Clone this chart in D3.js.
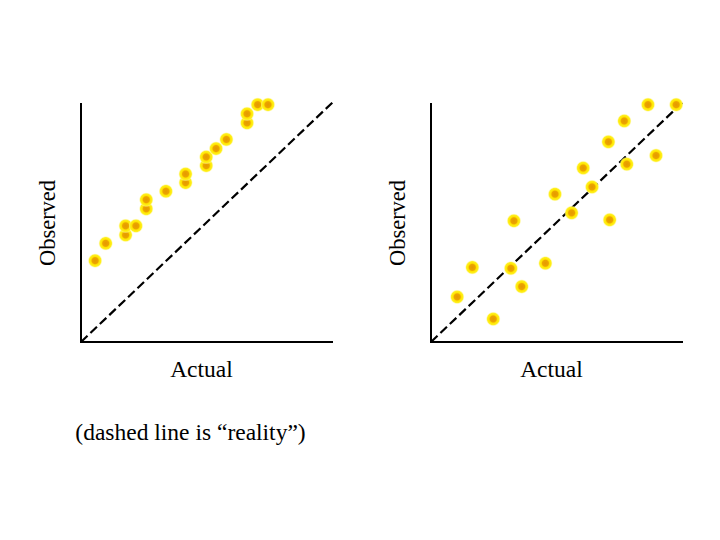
<!DOCTYPE html>
<html>
<head>
<meta charset="utf-8">
<script src="https://cdn.jsdelivr.net/npm/d3@7"></script>
<style>
  body { margin: 0; background: #fff; }
</style>
</head>
<body>
<script>
// left panel: observed sits above reality (biased)
const biasedActual   = [5.6, 9.8, 17.7, 17.7, 21.8, 25.9, 25.9, 33.7, 41.5, 41.5, 49.7, 49.7, 53.6, 57.7, 65.9, 65.9, 70.1, 74.2];
const biasedObserved = [33.9, 41.1, 44.6, 48.4, 48.4, 55.5, 59.3, 62.8, 66.4, 70.0, 73.5, 77.1, 80.6, 84.4, 91.3, 95.1, 98.9, 98.9];

// right panel: observed scattered round reality
const noisyActual   = [10.4, 16.4, 24.7, 31.7, 36.0, 32.9, 45.4, 49.2, 55.8, 60.4, 63.9, 70.9, 70.4, 76.7, 77.7, 89.3, 86.1, 97.3];
const noisyObserved = [18.8, 31.1, 9.6, 30.7, 23.1, 50.5, 32.8, 61.6, 53.8, 72.5, 64.6, 50.9, 83.4, 92.1, 74.1, 77.7, 98.9, 98.9];

const xLabel = 'Actual';
const yLabel = 'Observed';
const note = '(dashed line is \u201Creality\u201D)';

const width = 720, height = 540;
const serif = '"Liberation Serif", "Times New Roman", serif';
const svg = d3.select('body').append('svg')
  .attr('width', width)
  .attr('height', height);

// point look: orange core with a soft yellow halo
const defs = svg.append('defs');
const grad = defs.append('radialGradient').attr('id', 'dot');
grad.append('stop').attr('offset', '0%').attr('stop-color', '#e49a00');
grad.append('stop').attr('offset', '40%').attr('stop-color', '#eca400');
grad.append('stop').attr('offset', '55%').attr('stop-color', '#ffe400');
grad.append('stop').attr('offset', '78%').attr('stop-color', '#fff020');
grad.append('stop').attr('offset', '100%').attr('stop-color', '#fffbe0').attr('stop-opacity', 0);

function panel(left, xs, ys) {
  const x = d3.scaleLinear().domain([0, 100]).range([left, left + 252]);
  const y = d3.scaleLinear().domain([0, 100]).range([342, 102]);
  const g = svg.append('g');

  // reality line
  g.append('line')
    .attr('x1', x(0)).attr('y1', y(0))
    .attr('x2', x(100)).attr('y2', y(100))
    .attr('stroke', '#000')
    .attr('stroke-width', 2.2)
    .attr('stroke-dasharray', '9,4');

  // axes (no ticks)
  g.append('line')
    .attr('x1', x(0)).attr('y1', y(0) + 1)
    .attr('x2', x(0)).attr('y2', y(100) + 1)
    .attr('stroke', '#000').attr('stroke-width', 2);
  g.append('line')
    .attr('x1', x(0) - 1).attr('y1', y(0))
    .attr('x2', x(100)).attr('y2', y(0))
    .attr('stroke', '#000').attr('stroke-width', 2);

  const pts = xs.map((v, i) => ({a: v, o: ys[i]}));
  g.selectAll('circle')
    .data(pts)
    .join('circle')
    .attr('cx', d => x(d.a))
    .attr('cy', d => y(d.o))
    .attr('r', 7.5)
    .attr('fill', 'url(#dot)');

  g.append('text')
    .attr('x', x(47.8))
    .attr('y', 377)
    .attr('text-anchor', 'middle')
    .attr('font-family', serif)
    .attr('font-size', 23.5)
    .text(xLabel);

  g.append('text')
    .attr('transform', `translate(${left - 26},${223}) rotate(-90)`)
    .attr('text-anchor', 'middle')
    .attr('font-family', serif)
    .attr('font-size', 22.5)
    .text(yLabel);
}

panel(81, biasedActual, biasedObserved);
panel(431, noisyActual, noisyObserved);

svg.append('text')
  .attr('x', 190.5)
  .attr('y', 440)
  .attr('text-anchor', 'middle')
  .attr('font-family', serif)
  .attr('font-size', 23.5)
  .text(note);
</script>
</body>
</html>
